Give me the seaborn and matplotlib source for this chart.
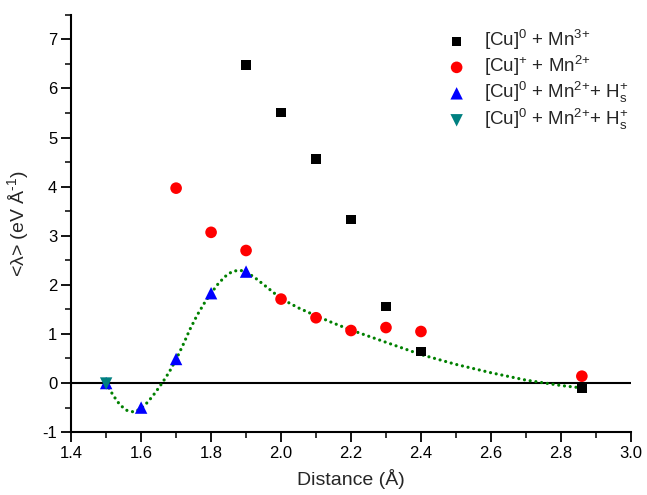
import numpy as np
import pandas as pd
import matplotlib
matplotlib.use("Agg")
import matplotlib.pyplot as plt
from matplotlib.ticker import MultipleLocator
import seaborn as sns

# data
sq_x = [1.9, 2.0, 2.1, 2.2, 2.3, 2.4, 2.86]
sq_y = [6.48, 5.51, 4.56, 3.33, 1.56, 0.64, -0.10]

circ_x = [1.7, 1.8, 1.9, 2.0, 2.1, 2.2, 2.3, 2.4, 2.86]
circ_y = [3.97, 3.07, 2.70, 1.71, 1.33, 1.07, 1.13, 1.05, 0.14]

up_x = [1.5, 1.6, 1.7, 1.8, 1.9]
up_y = [0.0, -0.50, 0.49, 1.83, 2.27]

down_x = [1.5]
down_y = [-0.01]

curve_x = [1.50, 1.52, 1.54, 1.56, 1.58, 1.60, 1.62, 1.64, 1.66, 1.68, 1.70,
           1.72, 1.74, 1.76, 1.78, 1.80, 1.82, 1.84, 1.86, 1.88, 1.90, 1.93,
           1.96, 2.00, 2.05, 2.10, 2.15, 2.20, 2.30, 2.40, 2.50, 2.60, 2.70,
           2.80, 2.86]
curve_y = [0.0, -0.25, -0.45, -0.56, -0.59, -0.52, -0.38, -0.20, 0.0, 0.22, 0.48,
           0.78, 1.10, 1.38, 1.62, 1.83, 2.02, 2.17, 2.27, 2.30, 2.27, 2.12,
           1.95, 1.72, 1.53, 1.37, 1.22, 1.08, 0.83, 0.58, 0.38, 0.21, 0.06,
           -0.05, -0.10]

labels = [r"[Cu]$^{0}$ + Mn$^{\text{3+}}$",
          r"[Cu]$^{+}$ + Mn$^{\text{2+}}$",
          r"[Cu]$^{0}$ + Mn$^{\text{2+}}$+ H$_{s}^{+}$",
          r"[Cu]$^{0}$ + Mn$^{\text{2+}}$+ H$_{s}^{+}$"]

sns.set_style("ticks")
plt.rcParams['font.family'] = ['Liberation Sans', 'DejaVu Sans']
plt.rcParams['mathtext.fontset'] = 'custom'
plt.rcParams['mathtext.rm'] = 'Liberation Sans'
plt.rcParams['mathtext.it'] = 'Liberation Sans'
plt.rcParams['mathtext.bf'] = 'Liberation Sans'
plt.rcParams['axes.unicode_minus'] = False

fig = plt.figure(figsize=(6.47, 4.95), dpi=100)
ax = fig.add_axes([0.110, 0.127, 0.865, 0.843])

ax.axhline(0, color='black', lw=1.5, zorder=1)

curve = pd.DataFrame({'x': curve_x, 'y': curve_y})
sns.lineplot(data=curve, x='x', y='y', ax=ax, color='#008000', lw=2.3,
             linestyle=(0, (0.01, 1.8)), dash_capstyle='round', zorder=2,
             sort=False, legend=False)

sns.scatterplot(x=sq_x, y=sq_y, marker='s', s=48, color='black',
                edgecolor='none', ax=ax, label=labels[0], zorder=3)
sns.scatterplot(x=circ_x, y=circ_y, marker='o', s=70, color='#ff0000',
                edgecolor='none', ax=ax, label=labels[1], zorder=3)
sns.scatterplot(x=up_x, y=up_y, marker='^', s=80, color='#0000ff',
                edgecolor='none', ax=ax, label=labels[2], zorder=3)
sns.scatterplot(x=down_x, y=down_y, marker='v', s=80, color='#008080',
                edgecolor='none', ax=ax, label=labels[3], zorder=4)

ax.set_xlim(1.4, 3.0)
ax.set_ylim(-1, 7.5)
ax.xaxis.set_major_locator(MultipleLocator(0.2))
ax.xaxis.set_minor_locator(MultipleLocator(0.1))
ax.yaxis.set_major_locator(MultipleLocator(1))
ax.yaxis.set_minor_locator(MultipleLocator(0.5))
ax.set_xticklabels([f"{v:.1f}" for v in ax.get_xticks()])

ax.tick_params(which='major', direction='out', length=7, width=1.3,
               labelsize=12, colors='black', pad=3)
ax.tick_params(which='minor', direction='out', length=4, width=1.3)

sns.despine(ax=ax)
for s in ['left', 'bottom']:
    ax.spines[s].set_linewidth(1.5)
    ax.spines[s].set_color('black')

ax.set_xlabel("Distance (Å)", fontsize=14, labelpad=6)
ax.set_ylabel(r"<$\lambda$> (eV Å$^{\text{-}1}$)", fontsize=14, labelpad=8)

leg = ax.legend(loc='upper left', bbox_to_anchor=(0.672, 0.968), frameon=False,
                fontsize=13.5, handlelength=1.0, handletextpad=0.95,
                labelspacing=0.1, borderpad=0, borderaxespad=0)

fig.savefig("out.png", dpi=100)
